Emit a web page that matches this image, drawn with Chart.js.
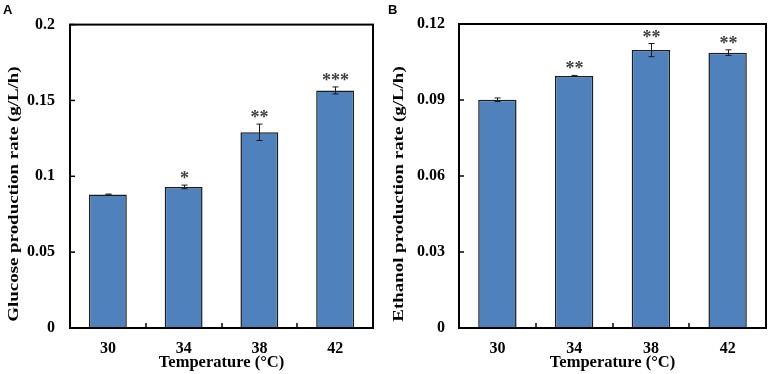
<!DOCTYPE html>
<html><head><meta charset="utf-8">
<script src="https://cdn.jsdelivr.net/npm/chart.js@4/dist/chart.umd.min.js"></script>
<style>
body{margin:0;background:#fff;width:770px;height:374px;position:relative;overflow:hidden}
.p{position:absolute;top:0;width:385px;height:374px}
</style></head><body>
<div class="p" style="left:0"><canvas id="cA" width="385" height="374"></canvas></div>
<div class="p" style="left:385px"><canvas id="cB" width="385" height="374"></canvas></div>
<script>
const categories = ['30', '34', '38', '42'];
const glucose = [0.0880, 0.0930, 0.1290, 0.1566];
const glucoseErr = [0.0003, 0.0012, 0.0054, 0.0023];
const glucoseSig = ['', '*', '**', '***'];
const ethanol = [0.0901, 0.0995, 0.1097, 0.1087];
const ethanolErr = [0.0007, 0.0002, 0.0026, 0.0011];
const ethanolSig = ['', '**', '**', '**'];
const yTicksA = [0, 0.05, 0.1, 0.15, 0.2];
const yTickLabelsA = ['0', '0.05', '0.1', '0.15', '0.2'];
const yTicksB = [0, 0.03, 0.06, 0.09, 0.12];
const yTickLabelsB = ['0', '0.03', '0.06', '0.09', '0.12'];
const xTitle = 'Temperature (°C)';
const yTitleA = 'Glucose production rate (g/L/h)';
const yTitleB = 'Ethanol production rate (g/L/h)';

const SERIF = '"Liberation Serif", "Times New Roman", serif';

const framePlugin = {
  id: 'frame',
  afterDatasetsDraw(chart, args, opts) {
    const ctx = chart.ctx;
    const a = chart.chartArea;
    const xs = chart.scales.x, ys = chart.scales.y;
    ctx.save();
    // error bars
    ctx.strokeStyle = '#1a1a1a';
    ctx.lineWidth = 1;
    opts.vals.forEach((v, i) => {
      const e = opts.errs[i];
      const x = Math.round(xs.getPixelForValue(i)) + 0.5;
      const y1 = ys.getPixelForValue(v + e), y2 = ys.getPixelForValue(v - e);
      ctx.beginPath();
      ctx.moveTo(x, y1); ctx.lineTo(x, y2);
      ctx.moveTo(x - 3, y1); ctx.lineTo(x + 3, y1);
      ctx.moveTo(x - 3, y2); ctx.lineTo(x + 3, y2);
      ctx.stroke();
      if (opts.sigs[i]) {
        ctx.fillStyle = '#404040';
        ctx.font = 'bold 18px ' + SERIF;
        ctx.textAlign = 'center';
        ctx.textBaseline = 'alphabetic';
        ctx.fillText(opts.sigs[i], x, y1 - 1);
      }
    });
    // frame
    ctx.strokeStyle = '#000';
    ctx.lineWidth = 2;
    ctx.strokeRect(a.left, a.top, a.right - a.left, a.bottom - a.top);
    // inward ticks
    ctx.lineWidth = 1.5;
    ys.ticks.forEach(t => {
      const y = ys.getPixelForValue(t.value);
      ctx.beginPath(); ctx.moveTo(a.left, y); ctx.lineTo(a.left + 5, y); ctx.stroke();
    });
    for (let i = 0; i < opts.vals.length - 1; i++) {
      const x = Math.round((xs.getPixelForValue(i) + xs.getPixelForValue(i + 1)) / 2);
      ctx.beginPath(); ctx.moveTo(x, a.bottom); ctx.lineTo(x, a.bottom - 5); ctx.stroke();
    }
    // y axis title (stretched along its length like the reference)
    ctx.fillStyle = '#000';
    ctx.save();
    ctx.translate(14, 194);
    ctx.rotate(-Math.PI / 2);
    ctx.scale(1.26, 1);
    ctx.font = 'bold 15px ' + SERIF;
    ctx.textAlign = 'center';
    ctx.textBaseline = 'middle';
    ctx.fillText(opts.yTitle, 0, 0);
    ctx.restore();
    // panel letter
    ctx.font = 'bold 13px "Liberation Sans", Arial, sans-serif';
    ctx.textAlign = 'left';
    ctx.textBaseline = 'alphabetic';
    ctx.fillText(opts.letter, opts.letterX, 14);
    ctx.restore();
  }
};

function makeChart(id, vals, errs, sigs, ticks, tickLabels, yTitle, leftW, padRight, labelPad, letter, letterX) {
  return new Chart(document.getElementById(id), {
    type: 'bar',
    data: {
      labels: categories,
      datasets: [{
        data: vals,
        backgroundColor: '#4F81BD',
        borderColor: '#1c1c1c',
        borderWidth: 1.5,
        categoryPercentage: 1,
        barPercentage: 0.5
      }]
    },
    options: {
      responsive: false,
      animation: false,
      devicePixelRatio: 1,
      layout: { padding: { top: 24, right: padRight, bottom: 0, left: 0 } },
      plugins: {
        legend: { display: false },
        tooltip: { enabled: false },
        frame: { vals, errs, sigs, letter, letterX, yTitle }
      },
      scales: {
        x: {
          grid: { display: false, drawTicks: false },
          border: { display: false },
          ticks: { padding: 11, color: '#000', font: { family: SERIF, size: 16, weight: 'bold' } },
          title: { display: true, text: xTitle, color: '#000', font: { family: SERIF, size: 16.5, weight: 'bold' }, padding: { top: 0, bottom: 1 } },
          afterFit: s => { s.height = 46; }
        },
        y: {
          min: 0,
          max: ticks[ticks.length - 1],
          afterBuildTicks: s => { s.ticks = ticks.map(v => ({ value: v })); },
          grid: { display: false, drawTicks: false },
          border: { display: false },
          ticks: { padding: labelPad, color: '#000', font: { family: SERIF, size: 16, weight: 'bold' }, callback: (v, i) => tickLabels[i] },
          title: { display: false },
          afterFit: s => { s.width = leftW; }
        }
      }
    },
    plugins: [framePlugin]
  });
}

makeChart('cA', glucose, glucoseErr, glucoseSig, yTicksA, yTickLabelsA, yTitleA, 70, 12, 15, 'A', 3);
makeChart('cB', ethanol, ethanolErr, ethanolSig, yTicksB, yTickLabelsB, yTitleB, 74, 4, 14, 'B', 3);
</script>
</body></html>
